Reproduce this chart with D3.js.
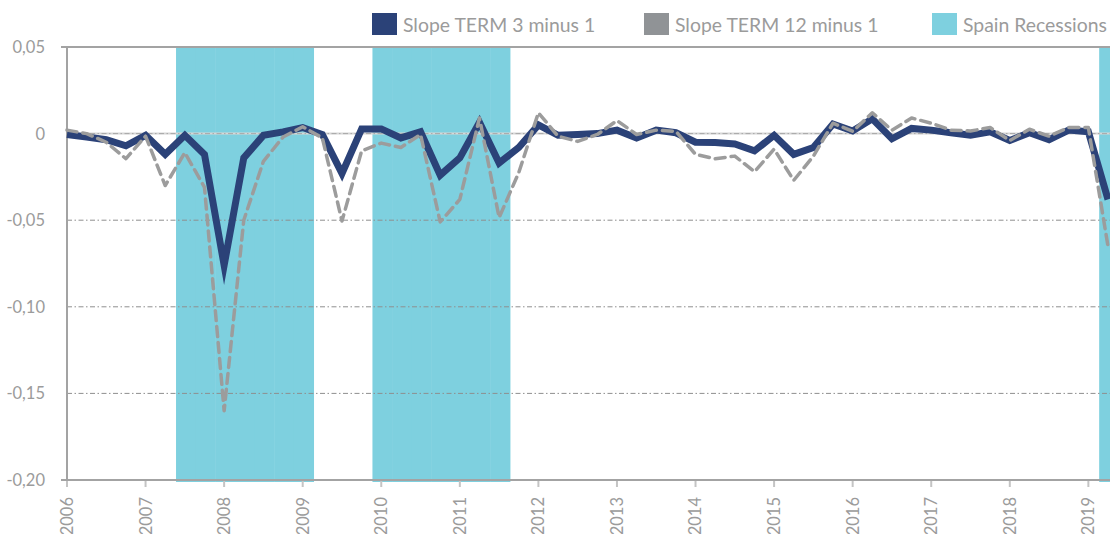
<!DOCTYPE html>
<html lang="en">

<head>
    <meta charset="UTF-8">
    <title>Slope TERM vs Spain recessions</title>
    <script src="https://cdn.jsdelivr.net/npm/d3@7"></script>
    <style>
        body { margin: 0; background: #fff; }
        svg { display: block; font-family: Lato, "Open Sans", sans-serif; }
    </style>
</head>

<body>
    <div id="container"><svg></svg></div>

    <script>
        // quarterly data, 2006Q1 .. 2019Q2
        const years = [2006, 2007, 2008, 2009, 2010, 2011, 2012, 2013, 2014, 2015, 2016, 2017, 2018, 2019]
        const quarters = years.flatMap(y => [1, 2, 3, 4].map(q => `${y}Q${q}`)).slice(0, 54)

        const term3 = [
            -0.0005, -0.002, -0.0035, -0.007, -0.001, -0.012, -0.001, -0.012,
            -0.076, -0.014, -0.001, 0.001, 0.0035, -0.0005, -0.023, 0.0027,
            0.0027, -0.0025, 0.001, -0.024, -0.014, 0.0065, -0.017, -0.008,
            0.005, -0.001, -0.0005, 0.0, 0.002, -0.0025, 0.002, 0.0005,
            -0.005, -0.0052, -0.006, -0.010, -0.001, -0.012, -0.008, 0.0055,
            0.0015, 0.0085, -0.003, 0.003, 0.002, 0.0005, -0.001, 0.001,
            -0.004, 0.0005, -0.0035, 0.002, 0.001, -0.038
        ]
        const term12 = [
            0.002, 0.0, -0.005, -0.0145, -0.0015, -0.030, -0.011, -0.031,
            -0.160, -0.050, -0.016, -0.002, 0.004, -0.0025, -0.0505, -0.010,
            -0.0055, -0.008, -0.0005, -0.051, -0.038, 0.009, -0.0485, -0.0225,
            0.012, -0.0015, -0.0045, -0.0005, 0.0075, -0.0005, 0.002, 0.0013,
            -0.012, -0.0145, -0.013, -0.022, -0.009, -0.027, -0.013, 0.006,
            0.0013, 0.012, 0.002, 0.009, 0.006, 0.002, 0.0015, 0.0035,
            -0.004, 0.0025, -0.0015, 0.0035, 0.0035, -0.065
        ]
        // 1 = quarter in recession
        const recession = [
            0, 0, 0, 0, 0, 0, 1, 1,
            1, 1, 1, 1, 1, 0, 0, 0,
            1, 1, 1, 1, 1, 1, 1, 0,
            0, 0, 0, 0, 0, 0, 0, 0,
            0, 0, 0, 0, 0, 0, 0, 0,
            0, 0, 0, 0, 0, 0, 0, 0,
            0, 0, 0, 0, 0, 1
        ]
        const yTicks = [0.05, 0, -0.05, -0.10, -0.15, -0.20]

        const colors = { term3: "#2b4278", term12: "#9c9c9c", swatch12: "#909396", recession: "#7ed0df", text: "#9b9b9b" }

        const width = 1110
        const height = 534
        const margin = { top: 47, right: 2, bottom: 54, left: 67 }

        const svg = d3.select('svg')
            .attr('width', width)
            .attr('height', height)

        const x = d3.scalePoint()
            .domain(quarters)
            .range([margin.left, width - margin.right])
        const step = x.step()

        const y = d3.scaleLinear()
            .domain([-0.20, 0.05])
            .range([height - margin.bottom, margin.top])

        const locale = d3.formatLocale({ decimal: ",", thousands: ".", grouping: [3], currency: ["", "€"], minus: "-" })
        const fmt = locale.format(".2f")
        const tickLabel = d => d === 0 ? "0" : fmt(d)

        // recession bands (one column per quarter, no gap)
        svg.append('g')
            .selectAll('rect')
            .data(quarters.filter((q, i) => recession[i]))
            .join('rect')
            .attr('x', d => x(d) - step / 2 + 1)
            .attr('width', step + 0.5)
            .attr('y', y(0.05))
            .attr('height', y(-0.20) - y(0.05) + 2)
            .attr('fill', colors.recession)

        // grid lines
        const grid = svg.append('g')
        grid.selectAll('line.dash')
            .data(yTicks.filter(d => d < 0 && d > -0.2))
            .join('line')
            .attr('x1', margin.left).attr('x2', width)
            .attr('y1', d => y(d)).attr('y2', d => y(d))
            .attr('stroke', '#8f8f8f')
            .attr('stroke-width', 1)
            .attr('stroke-dasharray', '5,2.5,1.5,2.5')

        // zero line (horizontal axis)
        grid.append('line')
            .attr('x1', margin.left).attr('x2', width)
            .attr('y1', y(0)).attr('y2', y(0))
            .attr('stroke', '#d6d6d6')
            .attr('stroke-width', 2)
        grid.append('line')
            .attr('x1', margin.left).attr('x2', width)
            .attr('y1', y(0)).attr('y2', y(0))
            .attr('stroke', '#a8a8a8')
            .attr('stroke-width', 1)
            .attr('stroke-dasharray', '5,2.5,1.5,2.5')

        // top and bottom lines
        grid.selectAll('line.edge')
            .data([0.05, -0.20])
            .join('line')
            .attr('x1', margin.left - 6).attr('x2', width)
            .attr('y1', d => y(d)).attr('y2', d => y(d))
            .attr('stroke', '#a3a3a3')
            .attr('stroke-width', 2)

        // left axis line
        svg.append('line')
            .attr('x1', margin.left).attr('x2', margin.left)
            .attr('y1', y(0.05)).attr('y2', y(-0.20) + 1)
            .attr('stroke', '#a3a3a3')
            .attr('stroke-width', 2)

        // y labels
        svg.append('g')
            .selectAll('text')
            .data(yTicks)
            .join('text')
            .attr('x', 45)
            .attr('y', d => y(d))
            .attr('dy', '0.36em')
            .attr('text-anchor', 'end')
            .attr('fill', colors.text)
            .style('font-size', '16.5px')
            .text(tickLabel)

        // x ticks + labels (one per year)
        const yearQuarters = quarters.filter(q => q.endsWith('Q1'))
        const xg = svg.append('g')
        xg.selectAll('line')
            .data(yearQuarters)
            .join('line')
            .attr('x1', d => x(d)).attr('x2', d => x(d))
            .attr('y1', y(-0.20) + 1).attr('y2', y(-0.20) + 7)
            .attr('stroke', '#c4c4c4')
            .attr('stroke-width', 2)
        xg.selectAll('text')
            .data(yearQuarters)
            .join('text')
            .attr('transform', d => `translate(${x(d)},497)rotate(-90)`)
            .attr('dy', '0.36em')
            .attr('text-anchor', 'end')
            .attr('fill', colors.text)
            .style('font-size', '16.5px')
            .text(d => d.slice(0, 4))

        // lines
        const line = series => d3.line()
            .x((d, i) => x(quarters[i]))
            .y(d => y(d))(series)

        svg.append('path')
            .attr('d', line(term3))
            .attr('fill', 'none')
            .attr('stroke', colors.term3)
            .attr('stroke-width', 7)
            .attr('stroke-linejoin', 'miter')
            .attr('stroke-miterlimit', 10)

        svg.append('path')
            .attr('d', line(term12))
            .attr('fill', 'none')
            .attr('stroke', colors.term12)
            .attr('stroke-width', 3.5)
            .attr('stroke-dasharray', '10,6')
            .attr('stroke-linecap', 'round')
            .attr('stroke-linejoin', 'round')

        // legend
        const legendItems = [
            { label: 'Slope TERM 3 minus 1', color: colors.term3, x: 372 },
            { label: 'Slope TERM 12 minus 1', color: colors.swatch12, x: 644 },
            { label: 'Spain Recessions', color: colors.recession, x: 932 },
        ]
        const legend = svg.append('g')
            .selectAll('g')
            .data(legendItems)
            .join('g')
            .attr('transform', d => `translate(${d.x},13)`)
        legend.append('rect')
            .attr('width', 25)
            .attr('height', 22)
            .attr('fill', d => d.color)
        legend.append('text')
            .attr('x', 31)
            .attr('y', 18.5)
            .attr('fill', colors.text)
            .style('font-size', '19.4px')
            .text(d => d.label)
    </script>
</body>

</html>
